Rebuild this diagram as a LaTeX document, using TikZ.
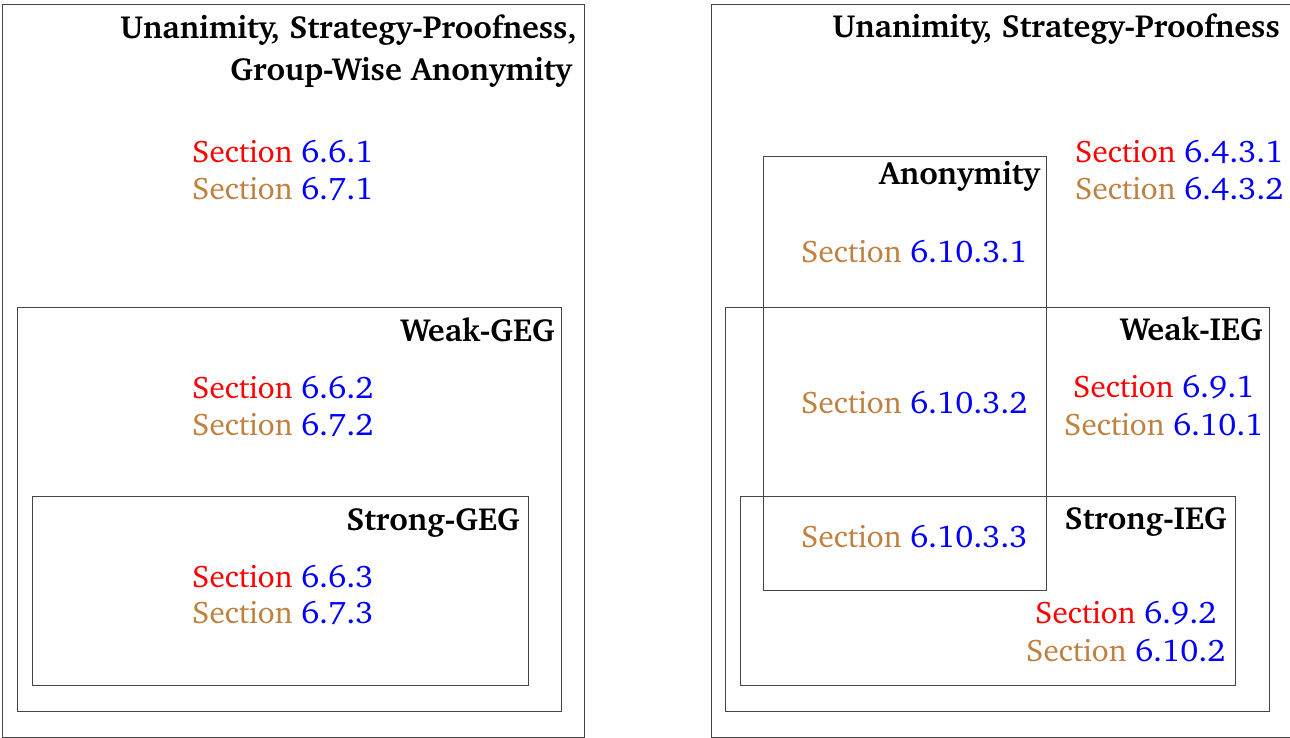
\documentclass[tikz,border=0pt]{standalone}
\usepackage[T1]{fontenc}
\usepackage{charter}
\definecolor{secred}{RGB}{255,0,0}
\definecolor{secbrown}{RGB}{191,128,64}
\definecolor{secblue}{RGB}{0,0,255}
\definecolor{frame}{RGB}{70,70,70}
\tikzset{
  box/.style={draw=frame, line width=0.9pt},
  ttl/.style={inner sep=0pt, anchor=base east, font=\fontsize{32}{38}\selectfont\bfseries},
  sec/.style={inner sep=0pt, anchor=base west, font=\fontsize{31.2}{37}\selectfont},
}
\newcommand{\Num}[1]{\textcolor{secblue}{\scalebox{1.04}[1]{#1}}}
\newcommand{\SR}[1]{\textcolor{secred}{Section} \Num{#1}}
\newcommand{\SB}[1]{\textcolor{secbrown}{Section} \Num{#1}}
\begin{document}
\begin{tikzpicture}[x=1pt,y=-1pt]
\useasboundingbox (0,0) rectangle (1290,738);
% left panel
\draw[box] (2,4) rectangle (584,737);
\draw[box] (17,307) rectangle (561,711);
\draw[box] (32,496) rectangle (528,685);
\node[ttl] (lt1) at (577,39) {Unanimity, Strategy-Proofness,};
\node[ttl] (lt2) at (572,81) {Group-Wise Anonymity};
\node[ttl] (lweak) at (555,341) {Weak-GEG};
\node[ttl] (lstrong) at (520,530) {Strong-GEG};
\node[sec] (s661) at (192,163) {\SR{6.6.1}};
\node[sec] (s671) at (192,200) {\SB{6.7.1}};
\node[sec] (s662) at (192,398) {\SR{6.6.2}};
\node[sec] (s672) at (192,435) {\SB{6.7.2}};
\node[sec] (s663) at (192,587) {\SR{6.6.3}};
\node[sec] (s673) at (192,623) {\SB{6.7.3}};
% right panel
\draw[box] (711,4) rectangle (1293,737);
\draw[box] (763,156) rectangle (1046,590);
\draw[box] (725,307) rectangle (1269,711);
\draw[box] (740,496) rectangle (1235,685);
\node[ttl] (rt1) at (1280,38) {Unanimity, Strategy-Proofness};
\node[ttl] (ranon) at (1040,185) {Anonymity};
\node[ttl] (rweak) at (1263,340) {Weak-IEG};
\node[ttl] (rstrong) at (1227,529) {Strong-IEG};
\node[sec] (s6431) at (1075,163) {\SR{6.4.3.1}};
\node[sec] (s6432) at (1075,200) {\SB{6.4.3.2}};
\node[sec] (s61031) at (801,262) {\SB{6.10.3.1}};
\node[sec] (s61032) at (801,413) {\SB{6.10.3.2}};
\node[sec] (s61033) at (801,547) {\SB{6.10.3.3}};
\node[sec] (s691) at (1073,397) {\SR{6.9.1}};
\node[sec] (s6101) at (1064,435) {\SB{6.10.1}};
\node[sec] (s692) at (1035,623) {\SR{6.9.2}};
\node[sec] (s6102) at (1026,661) {\SB{6.10.2}};
\end{tikzpicture}
\end{document}
